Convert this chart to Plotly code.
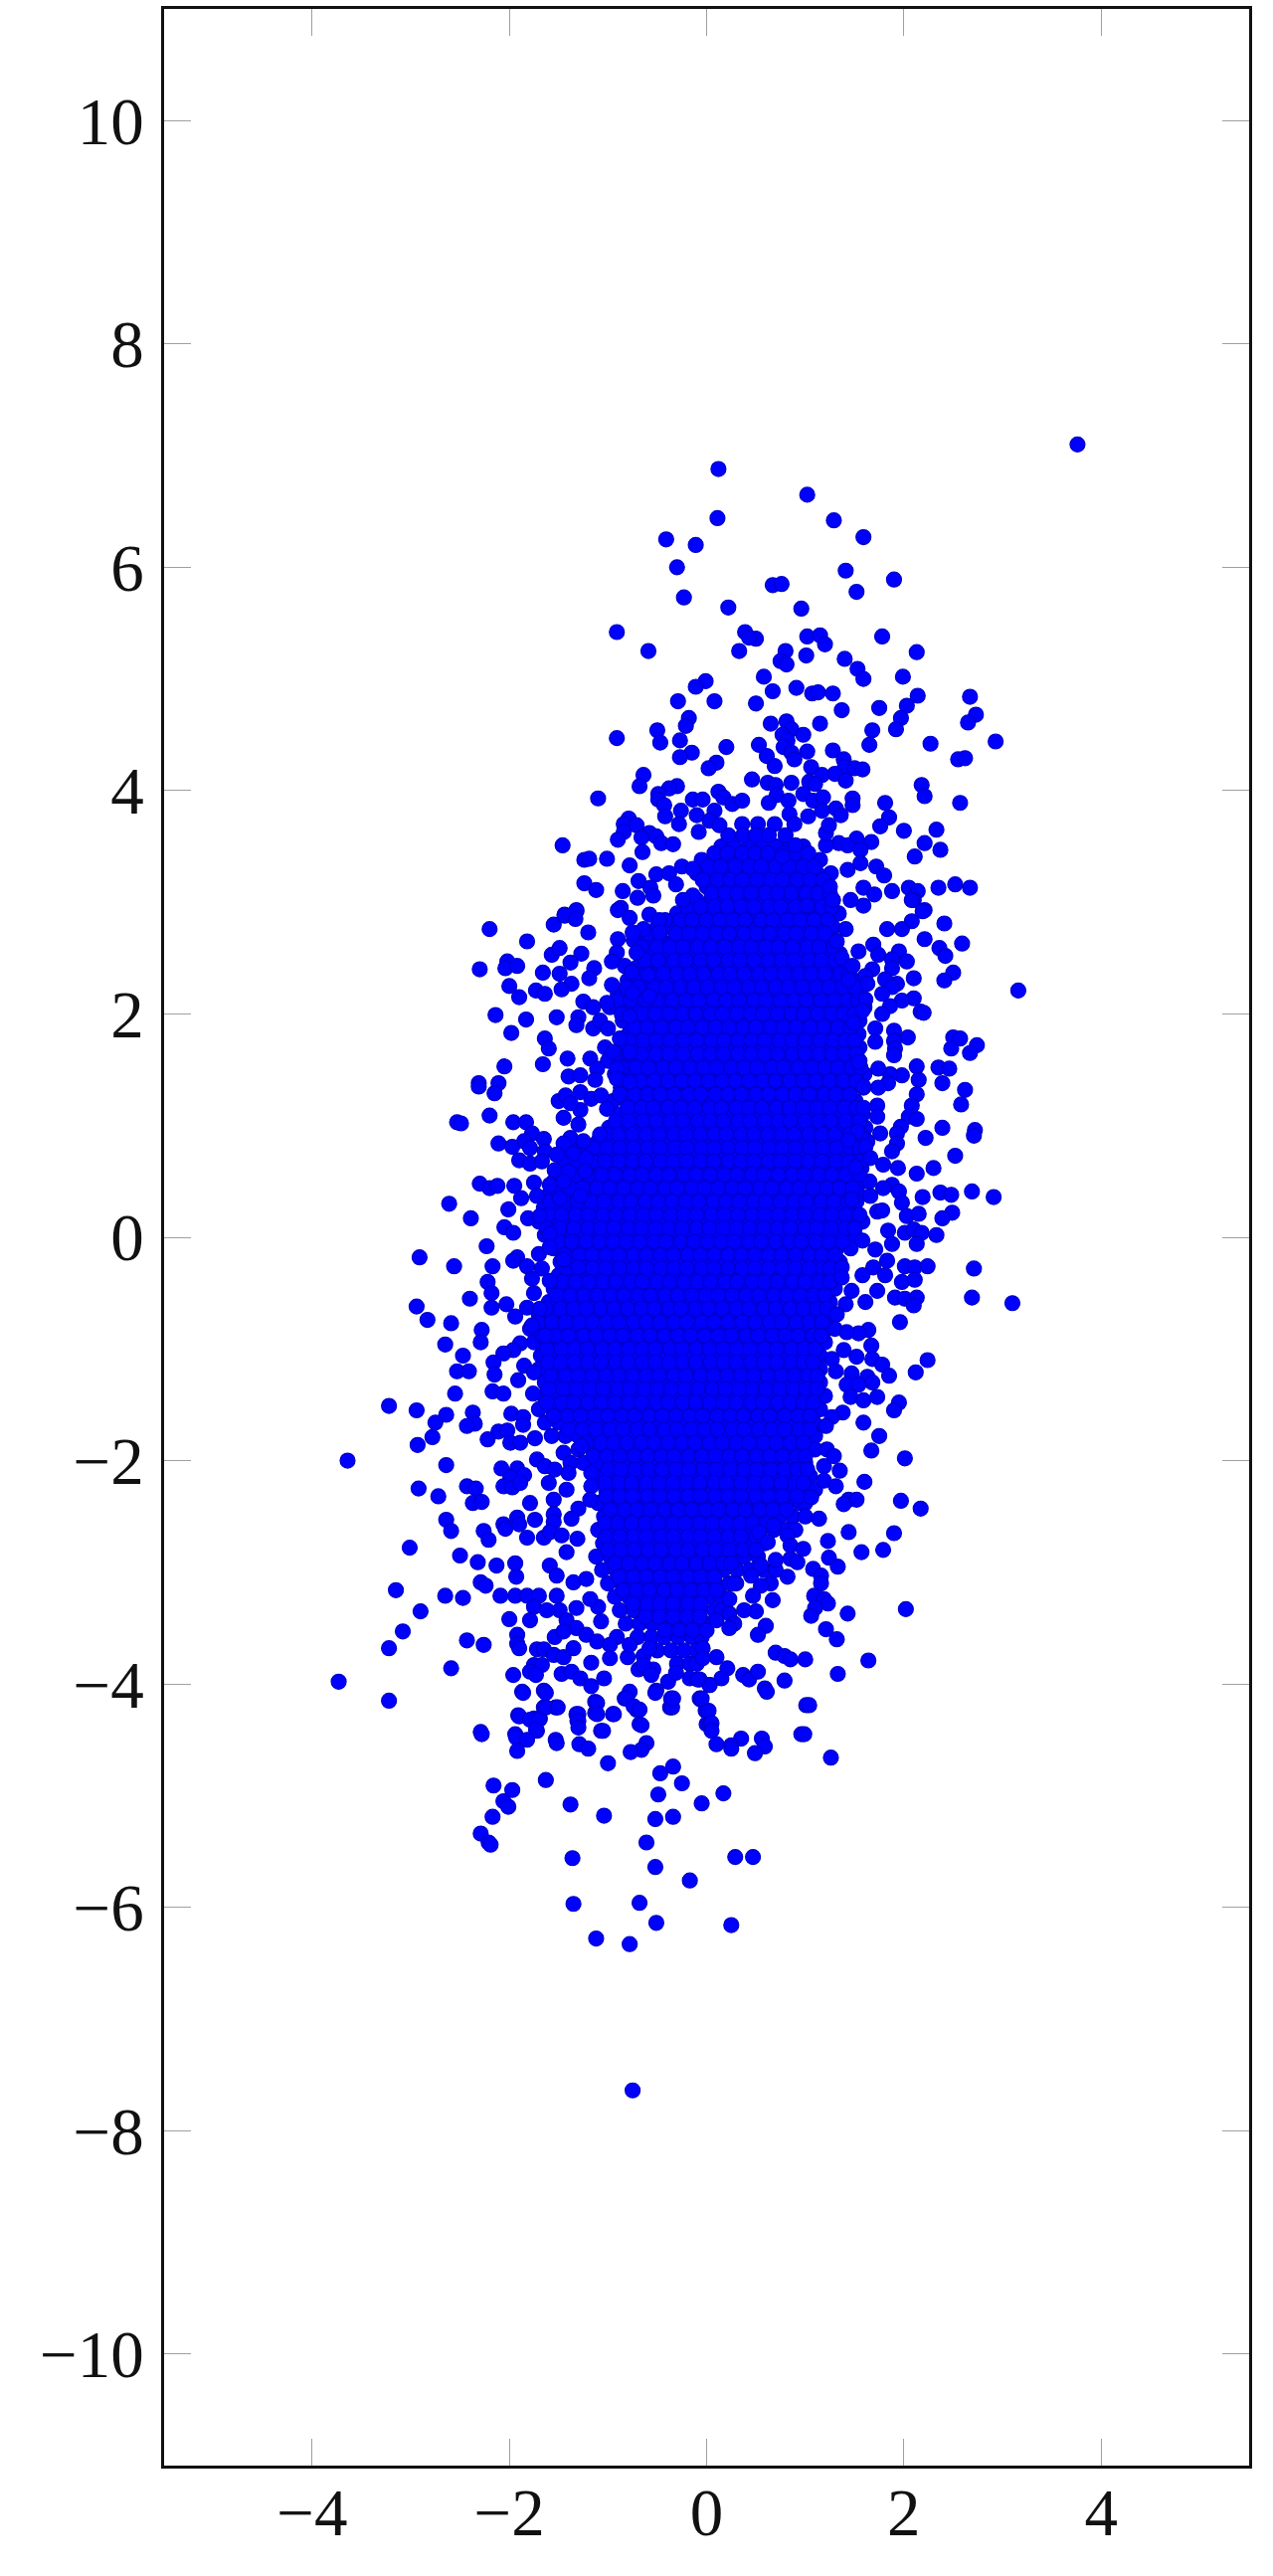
import plotly.graph_objects as go

x_ticks = [-4, -2, 0, 2, 4]
x_labels = ["\u22124", "\u22122", "0", "2", "4"]
y_ticks = [-10, -8, -6, -4, -2, 0, 2, 4, 6, 8, 10]
y_labels = ["\u221210", "\u22128", "\u22126", "\u22124", "\u22122", "0", "2", "4", "6", "8", "10"]

top_points = [(3.76,7.1),(.12,6.88),(1.02,6.65),(.11,6.44),(1.29,6.42),(1.59,6.27),(-.41,6.25),(-.11,6.2),(-.3,6.0),(1.41,5.97),(1.9,5.89),(1.52,5.78),(.67,5.84),(.76,5.85),(-.23,5.73),(.22,5.64),(.96,5.63),(-.91,5.42),(-.59,5.25),(.39,5.42),(.5,5.36),(.43,5.37),(.33,5.25),(1.02,5.38),(1.15,5.39),(1.2,5.31),(1.78,5.38),(2.13,5.24),(.8,5.25),(1.01,5.21),(.75,5.16),(.81,5.13),(1.4,5.18),(1.53,5.09),(1.59,5.0),(.58,5.02),(1.99,5.02),(.91,4.92),(.67,4.89),(-.01,4.98),(-.11,4.93),(-.29,4.8),(.08,4.8),(.5,4.78),(1.07,4.87),(1.13,4.88),(1.28,4.87),(1.37,4.72),(1.75,4.74),(2.14,4.85),(2.03,4.76),(1.97,4.65),(1.92,4.55),(2.67,4.84),(2.73,4.68),(2.65,4.61),(2.93,4.44),(-.18,4.65),(-.21,4.58),(-.5,4.54),(-.47,4.43),(-.91,4.47),(-.27,4.45),(-.15,4.34),(-.27,4.3),(.2,4.39),(.65,4.6),(.81,4.62),(1.15,4.6),(.86,4.55),(.98,4.5),(.77,4.5),(.82,4.45),(.53,4.41),(.78,4.39),(.86,4.34),(1.02,4.35),(.61,4.31),(.89,4.28),(.69,4.22),(1.68,4.54),(1.65,4.41),(2.27,4.42),(2.55,4.28),(2.62,4.29),(1.28,4.36),(1.39,4.28),(1.06,4.21),(1.4,4.21),(1.5,4.2),(1.58,4.19),(1.17,4.14),(1.3,4.15),(1.41,4.09),(1.04,4.08),(1.1,4.06),(.1,4.25),(.02,4.2),(-.64,4.14),(-.68,4.04),(-.3,4.04),(-.38,4.02),(-.49,3.97),(-.49,3.92),(-.43,3.87),(-.42,3.77),(-1.1,3.93),(.46,4.1),(.62,4.07),(.7,4.05),(.86,4.07),(.71,3.96),(.63,3.89),(.83,3.91),(.98,3.97),(1.08,3.91),(1.18,3.94),(-.14,3.92),(-.04,3.92),(.12,3.99),(.17,3.94),(.26,3.88),(.36,3.91),(-.26,3.82),(-.28,3.7),(-.1,3.78),(.08,3.82),(.03,3.73),(.13,3.69),(.84,3.79),(1.03,3.77),(.89,3.7),(1.17,3.82),(1.31,3.84),(1.36,3.78),(1.48,3.93),(1.48,3.87),(1.81,3.89),(1.85,3.76),(1.76,3.68),(2.18,4.05),(2.21,3.95),(2.57,3.89),(2.0,3.64),(2.33,3.65),(2.21,3.53),(2.37,3.47),(2.11,3.41),(-.79,3.75),(-.84,3.7),(-.71,3.69),(-.84,3.63),(-.58,3.62),(-.9,3.56),(-.66,3.58),(-.51,3.59),(-.46,3.53),(-.34,3.52),(-.65,3.45),(-1.46,3.51),(-1.24,3.38),(-1.19,3.39),(-1.01,3.39),(-.78,3.33),(-.08,3.63),(-1.24,3.17),(-1.12,3.11),(-.69,3.19),(-.85,3.1),(-.51,3.25),(-.38,3.26),(-.57,3.13),(-.7,3.04),(-.54,3.06),(-.31,3.16),(-.25,3.32),(-.14,3.3),(-.14,3.06),(-.24,3.02),(-1.44,2.89),(-1.32,2.92),(-.87,2.95),(2.35,3.13),(2.52,3.16),(2.67,3.13),(2.05,3.13),(2.14,3.1),(2.1,3.02),(2.21,2.93),(1.59,3.13),(1.88,3.1),(1.7,3.07),(1.72,3.32),(1.8,3.24),(1.59,2.97),(1.46,3.02),(1.25,3.14),(1.28,3.02),(1.02,2.97),(1.67,3.54),(1.52,3.57),(1.56,3.47),(1.34,3.53),(1.43,3.51),(1.56,3.35),(1.43,3.29),(1.21,3.51),(1.21,3.62),(1.24,3.69),(.9,3.51),(.77,3.41)]

left_upper_points = [(-2.2,2.76),(-1.82,2.65),(-1.55,2.8),(-1.44,2.88),(-1.32,2.93),(-1.33,2.85),(-1.2,2.73),(-.9,2.93),(-.78,2.86),(-.9,2.67),(-.58,2.89),(-.48,2.84),(-.64,2.76),(-.48,2.73),(-.75,2.73),(-1.57,2.53),(-1.49,2.59),(-1.27,2.54),(-1.38,2.46),(-.91,2.55),(-.96,2.47),(-.83,2.43),(-.71,2.55),(-2.3,2.4),(-2.02,2.47),(-2.04,2.41),(-1.92,2.43),(-1.66,2.37),(-1.49,2.36),(-1.37,2.27),(-1.47,2.22),(-1.14,2.41),(-1.19,2.32),(-.96,2.26),(-.76,2.38),(-.59,2.35),(-2.0,2.25),(-1.9,2.15),(-1.73,2.21),(-1.64,2.18),(-1.25,2.11),(-.75,2.19),(-.58,2.16),(-1.01,2.1),(-1.15,2.06),(-2.14,1.99),(-1.83,1.95),(-1.52,1.97),(-1.3,1.97),(-1.32,1.9),(-1.98,1.83),(-1.15,1.87),(-1.08,1.94),(-1.0,1.87),(-.86,2.0),(-.78,1.98),(-1.64,1.78),(-1.6,1.69),(-.88,1.78),(-1.03,1.7),(-1.41,1.6),(-1.66,1.55),(-1.18,1.6),(-.95,1.66),(-.78,1.66),(-2.05,1.53),(-1.11,1.51),(-.91,1.51),(-1.4,1.44),(-1.28,1.45),(-1.13,1.41),(-.91,1.42),(-.78,1.39),(-2.31,1.38),(-2.31,1.35),(-2.11,1.38),(-2.15,1.29),(-1.5,1.22),(-1.43,1.27),(-1.28,1.3),(-1.17,1.24),(-1.07,1.27),(-1.28,1.14),(-1.38,1.2),(-1.01,1.15),(-2.2,1.09),(-1.45,1.07),(-1.3,1.01),(-2.53,1.03),(-2.49,1.02),(-1.96,1.03),(-1.83,1.03),(-1.77,.93),(-1.65,.88),(-1.85,.86),(-2.11,.84),(-1.97,.81),(-1.79,.8),(-1.64,.77),(-1.9,.69),(-1.79,.66),(-1.67,.68),(-1.38,.89),(-1.45,.84),(-1.25,.86),(-1.08,.92),(-1.52,.74),(-1.35,.75),(-1.22,.71),(-1.54,.6),(-1.4,.59),(-1.23,.59),(-1.03,.68),(-2.3,.48),(-2.2,.44),(-2.12,.46),(-1.95,.46),(-1.88,.35),(-1.75,.49),(-1.72,.37),(-1.59,.47),(-1.45,.5),(-1.49,.35),(-1.28,.37),(-2.61,.3),(-2.39,.17),(-2.01,.25),(-1.81,.17),(-1.69,.19),(-2.05,.09),(-1.96,.04),(-2.23,-.08),(-2.91,-.18),(-2.56,-.26),(-2.17,-.26),(-1.92,-.18),(-1.96,-.21),(-1.7,-.15),(-1.82,-.26),(-1.59,.03),(-1.59,-.09),(-1.45,-.2),(-1.3,-.27),(-1.67,-.28),(-2.22,-.4),(-2.18,-.5),(-1.77,-.37),(-1.75,-.5),(-1.59,-.39),(-2.4,-.55),(-2.94,-.62),(-2.18,-.63),(-2.03,-.6),(-1.82,-.63),(-1.69,-.64)]

right_upper_points = [(2.08,3.02),(2.19,2.92),(2.08,2.83),(1.98,2.76),(1.83,2.76),(2.41,2.81),(2.21,2.67),(2.59,2.63),(2.36,2.59),(2.42,2.52),(1.41,2.76),(1.32,2.65),(1.54,2.56),(1.69,2.62),(1.95,2.56),(2.03,2.47),(1.74,2.53),(1.88,2.49),(1.88,2.41),(1.68,2.4),(1.37,2.5),(1.48,2.43),(1.61,2.34),(2.1,2.32),(2.5,2.37),(2.41,2.3),(3.16,2.21),(1.81,2.31),(1.93,2.27),(1.88,2.24),(1.63,2.27),(1.44,2.3),(2.1,2.14),(1.98,2.12),(2.17,2.02),(2.2,2.01),(1.78,2.18),(1.86,2.07),(1.61,2.13),(1.78,2.0),(1.58,2.03),(1.49,1.92),(1.71,1.87),(1.9,1.85),(2.04,1.79),(1.9,1.76),(1.71,1.75),(1.91,1.69),(1.9,1.63),(2.5,1.79),(2.57,1.78),(2.74,1.72),(2.67,1.65),(2.48,1.69),(2.13,1.53),(2.35,1.52),(2.46,1.51),(2.39,1.38),(2.62,1.32),(2.58,1.19),(2.15,1.41),(1.98,1.45),(1.86,1.46),(1.84,1.38),(1.74,1.34),(1.59,1.35),(1.74,1.51),(1.54,1.57),(2.13,1.28),(2.08,1.18),(1.59,1.16),(1.73,1.18),(1.73,1.08),(2.05,1.08),(2.13,1.06),(1.97,.99),(1.93,.93),(2.39,.98),(2.72,.96),(2.71,.91),(2.22,.89),(2.52,.73),(2.3,.62),(2.13,.57),(1.94,.62),(1.93,.84),(1.76,.93),(1.53,.95),(1.61,.81),(1.44,.87),(1.88,.77),(1.66,.71),(1.79,.65),(1.51,.63),(1.88,.47),(1.95,.41),(1.79,.44),(1.66,.37),(1.47,.34),(2.19,.36),(2.37,.4),(2.48,.38),(2.69,.41),(2.91,.36),(1.98,.31),(2.03,.19),(2.15,.21),(2.49,.22),(2.39,.17),(1.73,.23),(1.78,.24),(1.84,.06),(2.01,.04),(2.1,.07),(2.18,.04),(2.13,-.06),(2.33,.02),(1.88,-.06),(1.71,-.11),(1.58,-.03),(1.83,-.21),(2.01,-.26),(2.11,-.27),(2.24,-.26),(2.71,-.28),(1.69,-.27),(1.81,-.34),(1.98,-.4),(2.11,-.38),(1.58,-.34),(1.73,-.48),(1.37,-.27),(1.37,-.36),(2.69,-.54),(3.1,-.59),(1.91,-.54),(2.01,-.55),(2.13,-.54),(2.1,-.61),(1.61,-.58),(1.47,-.48),(1.41,-.6),(1.32,-.69)]

left_lower_points = [(-2.83,-.74),(-2.59,-.77),(-2.28,-.83),(-2.29,-.94),(-2.65,-.96),(-2.47,-1.06),(-1.94,-.71),(-1.77,-.79),(-1.64,-.88),(-1.89,-.95),(-1.96,-1.01),(-2.06,-1.04),(-2.16,-1.12),(-2.53,-1.2),(-2.41,-1.2),(-2.15,-1.23),(-1.85,-1.15),(-1.91,-1.28),(-1.75,-1.21),(-2.55,-1.4),(-2.17,-1.38),(-2.06,-1.4),(-1.76,-1.4),(-3.22,-1.51),(-2.94,-1.55),(-2.64,-1.59),(-2.75,-1.66),(-2.78,-1.79),(-2.93,-1.86),(-2.37,-1.57),(-2.35,-1.67),(-2.43,-1.69),(-1.98,-1.58),(-1.86,-1.61),(-1.86,-1.68),(-2.11,-1.74),(-2.02,-1.73),(-2.22,-1.81),(-1.99,-1.84),(-1.89,-1.84),(-1.74,-1.8),(-3.64,-2.0),(-2.64,-2.04),(-1.72,-1.99),(-1.64,-2.05),(-1.54,-2.08),(-1.45,-1.93),(-1.27,-1.87),(-1.38,-2.02),(-1.4,-2.11),(-2.08,-2.07),(-1.92,-2.07),(-1.85,-2.13),(-1.99,-2.15),(-2.06,-2.23),(-1.97,-2.24),(-1.89,-2.2),(-2.92,-2.25),(-2.72,-2.32),(-2.43,-2.23),(-2.34,-2.25),(-2.37,-2.38),(-2.28,-2.37),(-1.6,-2.2),(-1.42,-2.26),(-1.55,-2.35),(-1.79,-2.38),(-1.17,-2.11),(-1.17,-2.23),(-1.18,-2.35),(-1.3,-2.43),(-1.55,-2.48),(-1.37,-2.52),(-1.55,-2.55),(-2.64,-2.53),(-2.59,-2.63),(-2.26,-2.63),(-2.21,-2.71),(-2.06,-2.57),(-2.04,-2.61),(-1.92,-2.51),(-1.9,-2.57),(-1.74,-2.53),(-1.82,-2.69),(-1.65,-2.69),(-1.59,-2.64),(-1.47,-2.67),(-1.31,-2.7),(-1.42,-2.82),(-3.01,-2.78),(-2.5,-2.85),(-2.32,-2.91),(-2.13,-2.94),(-1.94,-2.92),(-1.93,-3.04),(-1.59,-2.94),(-1.52,-3.03),(-1.35,-3.09),(-1.22,-3.06),(-2.29,-3.09),(-2.24,-3.12),(-3.15,-3.16),(-2.65,-3.21),(-2.47,-3.23),(-2.09,-3.21),(-1.94,-3.21),(-1.82,-3.21),(-1.7,-3.21),(-1.52,-3.21),(-2.9,-3.35),(-1.75,-3.31),(-1.49,-3.34),(-1.62,-3.34),(-1.32,-3.32),(-1.1,-3.31),(-1.18,-3.24),(-2.0,-3.42),(-1.79,-3.43),(-1.07,-3.44),(-1.42,-3.43),(-1.32,-3.5),(-3.08,-3.53),(-1.92,-3.56),(-1.54,-3.58),(-1.45,-3.53),(-1.22,-3.56),(-1.11,-3.62),(-.91,-3.58),(-.98,-3.65),(-2.43,-3.61),(-2.26,-3.65),(-3.22,-3.68),(-1.92,-3.64),(-1.9,-3.68),(-1.72,-3.69),(-1.65,-3.69),(-1.55,-3.74),(-1.45,-3.76),(-1.35,-3.68),(-.98,-3.77),(-.8,-3.76),(-.64,-3.75),(-.58,-3.68),(-.78,-3.65),(-1.17,-3.81),(-2.59,-3.86),(-1.75,-3.83),(-1.67,-3.83),(-1.79,-3.89),(-1.73,-3.92),(-1.96,-3.92),(-1.47,-3.91),(-1.37,-3.89),(-1.28,-3.95),(-1.04,-3.95),(-1.17,-4.02),(-.69,-3.87),(-.54,-3.87),(-.64,-3.83),(-.56,-3.92),(-.39,-3.98),(-.51,-4.06),(-.36,-4.13),(-.37,-4.21),(-3.73,-3.98),(-3.22,-4.15),(-1.87,-4.07),(-1.65,-4.06),(-.78,-4.07),(-.83,-4.13),(-.71,-4.23),(-1.13,-4.16),(-1.13,-4.26),(-.95,-4.27),(-1.65,-4.21),(-1.53,-4.21),(-1.91,-4.28),(-1.75,-4.31),(-1.69,-4.31),(-1.32,-4.27),(-1.31,-4.33),(-.68,-4.36),(-1.07,-4.42),(-.07,-4.13),(-.01,-4.24),(0,-4.36),(-.31,-3.9),(-.17,-3.95),(-.07,-3.96),(.03,-4.01),(-2.29,-4.43),(-1.72,-4.42),(-1.94,-4.45)]

right_lower_points = [(1.96,-.76),(2.24,-1.1),(2.12,-1.21),(1.64,-.83),(1.54,-.86),(1.42,-.85),(1.67,-.97),(1.39,-1.01),(1.52,-1.07),(1.68,-1.09),(1.78,-1.14),(1.85,-1.24),(1.27,-1.09),(1.31,-1.2),(1.47,-1.22),(1.63,-1.25),(1.68,-1.3),(1.42,-1.32),(1.54,-1.32),(1.46,-1.43),(1.59,-1.46),(1.73,-1.43),(1.95,-1.48),(1.9,-1.55),(1.38,-1.57),(1.27,-1.61),(1.21,-1.69),(1.59,-1.66),(1.75,-1.78),(1.67,-1.91),(2.01,-1.98),(1.22,-1.9),(1.29,-1.96),(1.35,-2.09),(1.19,-2.05),(1.19,-2.18),(1.31,-2.23),(1.6,-2.19),(1.44,-2.35),(1.52,-2.35),(1.39,-2.39),(1.06,-2.33),(1.97,-2.36),(2.17,-2.43),(1.14,-2.52),(1.44,-2.64),(1.9,-2.65),(1.23,-2.72),(1.57,-2.82),(1.79,-2.8),(1.24,-2.87),(1.33,-2.95),(.68,-2.58),(.82,-2.67),(.85,-2.76),(.98,-2.79),(.85,-2.88),(.92,-2.91),(.7,-2.89),(.53,-2.64),(.62,-2.73),(.55,-2.94),(.82,-3.04),(1.08,-2.97),(1.16,-3.03),(1.16,-3.1),(1.09,-3.21),(1.19,-3.24),(1.23,-3.28),(1.1,-3.32),(1.06,-3.39),(2.02,-3.33),(1.43,-3.37),(.65,-3.1),(.55,-3.12),(.28,-3.1),(.45,-3.03),(.67,-3.25),(.47,-3.21),(.5,-3.35),(.38,-3.34),(.23,-3.24),(.23,-3.37),(.1,-3.43),(.28,-3.46),(.23,-3.5),(0,-3.52),(.6,-3.48),(.52,-3.56),(1.21,-3.51),(1.32,-3.6),(.7,-3.72),(.79,-3.75),(.85,-3.78),(1.0,-3.78),(1.64,-3.79),(.1,-3.76),(-.04,-3.68),(-.04,-3.77),(.21,-3.86),(.15,-3.95),(.03,-4.01),(-.09,-3.96),(.37,-3.92),(.43,-3.96),(.52,-3.89),(.79,-3.97),(.59,-4.04),(1.33,-3.91),(1.01,-4.19),(-.06,-4.14),(0,-4.24),(.03,-4.36),(.96,-4.45)]

bottom_points = [(-2.28,-4.45),(-1.9,-4.29),(-1.79,-4.32),(-1.7,-4.32),(-1.63,-4.21),(-1.51,-4.21),(-1.86,-4.08),(-1.63,-4.08),(-1.73,-4.41),(-1.93,-4.48),(-1.82,-4.5),(-1.92,-4.6),(-1.53,-4.5),(-1.52,-4.53),(-1.3,-4.27),(-1.3,-4.33),(-1.3,-4.39),(-1.11,-4.17),(-1.11,-4.27),(-.94,-4.27),(-1.05,-4.42),(-1.29,-4.54),(-1.2,-4.58),(-1.0,-4.71),(-.81,-4.13),(-.74,-4.2),(-.68,-4.23),(-.66,-4.37),(-.35,-4.21),(-.34,-4.13),(-.52,-4.08),(-.05,-4.13),(.02,-4.24),(.05,-4.35),(.05,-4.42),(.1,-4.54),(-.61,-4.53),(-.66,-4.59),(-.77,-4.61),(.35,-4.49),(.25,-4.55),(.25,-4.58),(.56,-4.49),(.59,-4.56),(.49,-4.62),(1.04,-4.19),(.99,-4.45),(1.26,-4.66),(.61,-4.07),(-.34,-4.74),(-.47,-4.8),(-.25,-4.89),(-1.63,-4.86),(-2.16,-4.91),(-1.97,-4.95),(-2.06,-5.05),(-2.01,-5.1),(-2.17,-5.19),(-2.29,-5.34),(-2.21,-5.42),(-2.19,-5.44),(-1.38,-5.08),(-1.04,-5.18),(-.49,-4.99),(-.52,-5.21),(-.34,-5.19),(-.05,-5.07),(.17,-4.98),(-.61,-5.42),(-1.36,-5.56),(-.52,-5.64),(.29,-5.55),(.47,-5.55),(-.17,-5.76),(-1.35,-5.97),(-.68,-5.96),(-.51,-6.14),(.25,-6.16),(-1.12,-6.28),(-.78,-6.33),(-.75,-7.64)]

core_y = [3.5,3.38,3.26,3.14,3.02,2.9,2.78,2.66,2.54,2.42,2.3,2.18,2.06,1.94,1.82,1.7,1.58,1.46,1.34,1.22,1.1,.98,.86,.74,.62,.5,.38,.26,.14,.02,-.1,-.22,-.34,-.46,-.58,-.7,-.82,-.94,-1.06,-1.18,-1.3,-1.42,-1.54,-1.66,-1.78,-1.9,-2.02,-2.14,-2.26,-2.38,-2.5,-2.62,-2.74,-2.86,-2.98,-3.1,-3.22,-3.34,-3.46,-3.58,-3.7,-3.82]

core_x_rows = [
[.15,.28,.43,.56,.71,.84,.98],
[-.05,.08,.22,.35,.49,.64,.77,.91,1.04,1.15],
[-.1,.03,.17,.3,.44,.57,.71,.85,.98,1.12,1.26],
[0,.12,.25,.4,.53,.67,.8,.94,1.07,1.21],
[-.1,.05,.18,.32,.46,.59,.73,.87,1.0,1.14,1.28],
[-.3,-.17,-.03,.11,.24,.38,.52,.65,.79,.93,1.06,1.2,1.34],
[-.5,-.36,-.23,-.09,.05,.18,.32,.46,.59,.73,.87,1.0,1.14,1.28],
[-.74,-.6,-.46,-.32,-.19,-.05,.08,.22,.36,.49,.63,.77,.9,1.04,1.18,1.3],
[-.67,-.53,-.39,-.26,-.12,.02,.15,.29,.43,.56,.7,.84,.97,1.11,1.25,1.35],
[-.7,-.57,-.43,-.3,-.16,-.02,.11,.25,.39,.52,.66,.8,.93,1.07,1.21,1.34],
[-.8,-.66,-.52,-.39,-.25,-.11,.02,.16,.3,.43,.57,.71,.84,.98,1.12,1.25,1.39,1.5],
[-.9,-.76,-.62,-.49,-.35,-.21,-.08,.06,.2,.33,.47,.61,.74,.88,1.02,1.15,1.29,1.43,1.55],
[-.98,-.84,-.71,-.57,-.43,-.3,-.16,-.02,.11,.25,.39,.52,.66,.8,.93,1.07,1.21,1.34,1.48,1.6],
[-.85,-.72,-.58,-.44,-.31,-.17,-.03,.1,.24,.38,.51,.65,.79,.92,1.06,1.2,1.33,1.47,1.55],
[-.79,-.65,-.51,-.38,-.24,-.1,.03,.17,.31,.44,.58,.72,.85,.99,1.13,1.26,1.4,1.54],
[-.85,-.71,-.58,-.44,-.3,-.17,-.03,.11,.24,.38,.52,.65,.79,.93,1.06,1.2,1.34,1.47,1.55],
[-1.0,-.86,-.73,-.59,-.45,-.32,-.18,-.04,.09,.23,.37,.5,.64,.78,.91,1.05,1.19,1.32,1.46,1.55],
[-.93,-.79,-.66,-.52,-.38,-.25,-.11,.03,.16,.3,.44,.57,.71,.85,.98,1.12,1.26,1.39,1.53,1.6],
[-.87,-.73,-.6,-.46,-.32,-.19,-.05,.09,.22,.36,.5,.63,.77,.91,1.04,1.18,1.32,1.45,1.59],
[-.95,-.81,-.68,-.54,-.4,-.27,-.13,.01,.14,.28,.42,.55,.69,.83,.96,1.1,1.24,1.37,1.51],
[-.88,-.74,-.61,-.47,-.33,-.2,-.06,.08,.21,.35,.49,.62,.76,.9,1.03,1.17,1.31,1.44,1.58],
[-.99,-.85,-.72,-.58,-.44,-.31,-.17,-.03,.1,.24,.38,.51,.65,.79,.92,1.06,1.2,1.33,1.47,1.61],
[-1.1,-.96,-.83,-.69,-.55,-.42,-.28,-.14,-.01,.13,.27,.4,.54,.68,.81,.95,1.09,1.22,1.36,1.5,1.63],
[-1.5,-1.37,-1.23,-1.09,-.96,-.82,-.68,-.55,-.41,-.27,-.14,0,.14,.27,.41,.55,.68,.82,.96,1.09,1.23,1.37,1.5,1.6],
[-1.43,-1.3,-1.16,-1.02,-.89,-.75,-.61,-.48,-.34,-.2,-.07,.07,.21,.34,.48,.62,.75,.89,1.03,1.16,1.3,1.44,1.57],
[-1.55,-1.41,-1.28,-1.14,-1.0,-.87,-.73,-.59,-.46,-.32,-.18,-.05,.09,.23,.36,.5,.64,.77,.91,1.05,1.18,1.32,1.46,1.59,1.65],
[-1.6,-1.47,-1.33,-1.19,-1.06,-.92,-.78,-.65,-.51,-.37,-.24,-.1,.04,.17,.31,.45,.58,.72,.86,.99,1.13,1.27,1.4,1.54],
[-1.65,-1.52,-1.38,-1.24,-1.11,-.97,-.83,-.7,-.56,-.42,-.29,-.15,-.01,.12,.26,.4,.53,.67,.81,.94,1.08,1.22,1.35,1.49],
[-1.7,-1.56,-1.43,-1.29,-1.15,-1.02,-.88,-.74,-.61,-.47,-.33,-.2,-.06,.08,.21,.35,.49,.62,.76,.9,1.03,1.17,1.31,1.44,1.58],
[-1.64,-1.5,-1.37,-1.23,-1.09,-.96,-.82,-.68,-.55,-.41,-.27,-.14,0,.14,.27,.41,.55,.68,.82,.96,1.09,1.23,1.37,1.5],
[-1.55,-1.41,-1.28,-1.14,-1.0,-.87,-.73,-.59,-.46,-.32,-.18,-.05,.09,.23,.36,.5,.64,.77,.91,1.05,1.18,1.32,1.46],
[-1.48,-1.34,-1.21,-1.07,-.93,-.8,-.66,-.52,-.39,-.25,-.11,.02,.16,.3,.43,.57,.71,.84,.98,1.12,1.25,1.35],
[-1.5,-1.37,-1.23,-1.09,-.96,-.82,-.68,-.55,-.41,-.27,-.14,0,.14,.27,.41,.55,.68,.82,.96,1.09,1.23,1.3],
[-1.55,-1.41,-1.28,-1.14,-1.0,-.87,-.73,-.59,-.46,-.32,-.18,-.05,.09,.23,.36,.5,.64,.77,.91,1.05,1.18,1.3],
[-1.6,-1.47,-1.33,-1.19,-1.06,-.92,-.78,-.65,-.51,-.37,-.24,-.1,.04,.17,.31,.45,.58,.72,.86,.99,1.13,1.25],
[-1.7,-1.56,-1.43,-1.29,-1.15,-1.02,-.88,-.74,-.61,-.47,-.33,-.2,-.06,.08,.21,.35,.49,.62,.76,.9,1.03,1.17,1.25],
[-1.79,-1.65,-1.52,-1.38,-1.24,-1.11,-.97,-.83,-.7,-.56,-.42,-.29,-.15,-.01,.12,.26,.4,.53,.67,.81,.94,1.08,1.22,1.3],
[-1.75,-1.61,-1.48,-1.34,-1.2,-1.07,-.93,-.79,-.66,-.52,-.38,-.25,-.11,.03,.16,.3,.44,.57,.71,.85,.98,1.12,1.2],
[-1.68,-1.54,-1.41,-1.27,-1.13,-1.0,-.86,-.72,-.59,-.45,-.31,-.18,-.04,.1,.23,.37,.51,.64,.78,.92,1.05,1.15],
[-1.7,-1.56,-1.43,-1.29,-1.15,-1.02,-.88,-.74,-.61,-.47,-.33,-.2,-.06,.08,.21,.35,.49,.62,.76,.9,1.03,1.15],
[-1.64,-1.5,-1.37,-1.23,-1.09,-.96,-.82,-.68,-.55,-.41,-.27,-.14,0,.14,.27,.41,.55,.68,.82,.96,1.09,1.15],
[-1.65,-1.51,-1.38,-1.24,-1.1,-.97,-.83,-.69,-.56,-.42,-.28,-.15,-.01,.13,.26,.4,.54,.67,.81,.95,1.08,1.2],
[-1.7,-1.56,-1.43,-1.29,-1.15,-1.02,-.88,-.74,-.61,-.47,-.33,-.2,-.06,.08,.21,.35,.49,.62,.76,.9,1.03,1.15],
[-1.64,-1.5,-1.37,-1.23,-1.09,-.96,-.82,-.68,-.55,-.41,-.27,-.14,0,.14,.27,.41,.55,.68,.82,.96,1.09],
[-1.57,-1.43,-1.3,-1.16,-1.02,-.89,-.75,-.61,-.48,-.34,-.2,-.07,.07,.21,.34,.48,.62,.75,.89,1.03,1.1],
[-1.3,-1.16,-1.03,-.89,-.75,-.62,-.48,-.34,-.21,-.07,.07,.2,.34,.48,.61,.75,.89,1.02,1.1],
[-1.25,-1.11,-.98,-.84,-.7,-.57,-.43,-.29,-.16,-.02,.12,.25,.39,.53,.66,.8,.94,1.0],
[-1.08,-.94,-.81,-.67,-.53,-.4,-.26,-.12,.01,.15,.29,.42,.56,.7,.83,.97,1.05],
[-1.02,-.88,-.75,-.61,-.47,-.34,-.2,-.06,.07,.21,.35,.48,.62,.76,.89,1.03,1.1],
[-1.1,-.96,-.83,-.69,-.55,-.42,-.28,-.14,-.01,.13,.27,.4,.54,.68,.81,.95,1.0],
[-1.04,-.9,-.77,-.63,-.49,-.36,-.22,-.08,.05,.19,.33,.46,.6,.74,.87,1.0],
[-1.1,-.96,-.83,-.69,-.55,-.42,-.28,-.14,-.01,.13,.27,.4,.54,.68,.81,.9],
[-1.05,-.92,-.78,-.64,-.51,-.37,-.23,-.1,.04,.18,.31,.45,.59],
[-1.12,-.98,-.85,-.71,-.57,-.44,-.3,-.16,-.03,.11,.25,.38,.52],
[-1.06,-.92,-.79,-.65,-.51,-.38,-.24,-.1,.03,.17,.31,.44,.58,.7],
[-1.0,-.86,-.73,-.59,-.45,-.32,-.18,-.04,.09,.23,.3],
[-.93,-.79,-.66,-.52,-.38,-.25,-.11,.03,.15],
[-.88,-.74,-.61,-.47,-.33,-.2,-.06,.08,.15],
[-.82,-.68,-.55,-.41,-.27,-.14,0],
[-.7,-.56,-.43,-.29,-.15,-.05],
[-.5,-.36,-.23,-.1],
[-.3,-.17,-.1],
]

fill_y = [3.7,3.6,3.44,3.32,3.2,3.08,2.96,2.84,2.72,2.6,2.48,2.36,2.24,2.12,2.0,1.88,1.76,1.64,1.52,1.4,1.28,1.16,1.04,.92,.8,.68,.56,.44,.32,.2,.08,-.04,-.16,-.28,-.4,-.52,-.64,-.76,-.88,-1.0,-1.12,-1.24,-1.36,-1.48,-1.6,-1.72,-1.84,-1.96,-2.08,-2.2,-2.32,-2.44,-2.56,-2.68,-2.8,-2.92,-3.04,-3.16,-3.28,-3.4,-3.52,-3.64]

fill_x_rows = [
[.36,.52,.69],
[.22,.37,.5,.63,.8],
[.08,.21,.36,.49,.62,.78,.9,1.03],
[.02,.14,.29,.43,.55,.7,.83,.98,1.09],
[-.04,.11,.24,.36,.51,.65,.77,.92,1.05,1.18],
[.05,.19,.31,.45,.6,.72,.86,1.01,1.13,1.25],
[-.2,-.06,.08,.21,.35,.48,.63,.75,.9,1.03,1.17,1.27],
[-.42,-.27,-.15,.0,.13,.27,.39,.55,.67,.82,.95,1.09,1.23],
[-.6,-.47,-.31,-.18,-.04,.1,.23,.38,.51,.64,.79,.91,1.06,1.2],
[-.66,-.5,-.37,-.24,-.09,.04,.18,.33,.45,.6,.73,.87,1.02,1.14,1.29],
[-.62,-.49,-.33,-.21,-.06,.07,.22,.34,.48,.63,.76,.89,1.04,1.16,1.3],
[-.72,-.58,-.44,-.3,-.17,-.03,.12,.24,.38,.53,.65,.79,.94,1.06,1.2,1.35,1.44],
[-.81,-.69,-.53,-.41,-.26,-.13,.01,.15,.28,.43,.56,.7,.83,.97,1.11,1.24,1.38,1.5],
[-.9,-.77,-.62,-.5,-.35,-.21,-.08,.07,.2,.33,.48,.6,.75,.89,1.01,1.16,1.3,1.43,1.53],
[-.8,-.65,-.52,-.38,-.24,-.11,.04,.16,.31,.45,.57,.72,.86,.98,1.13,1.27,1.39,1.5],
[-.73,-.6,-.46,-.31,-.19,-.04,.09,.23,.37,.5,.65,.78,.91,1.05,1.19,1.33,1.46],
[-.79,-.64,-.51,-.37,-.23,-.1,.05,.18,.32,.45,.59,.74,.87,1.0,1.15,1.28,1.41,1.5],
[-.92,-.78,-.66,-.51,-.38,-.24,-.09,.04,.17,.32,.45,.59,.72,.87,1.0,1.14,1.27,1.4,1.52],
[-.86,-.71,-.59,-.44,-.31,-.17,-.03,.1,.25,.38,.51,.66,.78,.93,1.07,1.2,1.33,1.47,1.56],
[-.8,-.67,-.53,-.39,-.25,-.12,.02,.16,.29,.43,.57,.7,.84,.98,1.11,1.25,1.39,1.52],
[-.88,-.73,-.6,-.47,-.33,-.18,-.06,.09,.22,.35,.5,.63,.77,.9,1.04,1.19,1.31,1.45],
[-.8,-.66,-.54,-.39,-.26,-.12,.03,.15,.3,.43,.56,.71,.84,.98,1.12,1.25,1.4,1.52],
[-.92,-.79,-.64,-.51,-.37,-.24,-.09,.04,.17,.32,.44,.59,.73,.85,1.0,1.14,1.26,1.41,1.55],
[-1.02,-.89,-.75,-.61,-.48,-.33,-.21,-.06,.08,.2,.35,.48,.62,.76,.89,1.04,1.17,1.3,1.45,1.57],
[-1.42,-1.3,-1.15,-1.01,-.88,-.74,-.6,-.47,-.32,-.2,-.05,.08,.22,.36,.49,.64,.77,.9,1.05,1.18,1.32,1.46,1.55],
[-1.44,-1.31,-1.16,-1.03,-.89,-.75,-.62,-.47,-.34,-.2,-.06,.07,.22,.35,.48,.63,.75,.9,1.03,1.17,1.31,1.44,1.56],
[-1.48,-1.33,-1.2,-1.06,-.93,-.78,-.65,-.51,-.38,-.23,-.1,.04,.18,.31,.46,.58,.73,.87,.99,1.14,1.27,1.41,1.55],
[-1.53,-1.39,-1.26,-1.11,-.98,-.84,-.7,-.57,-.42,-.3,-.15,-.02,.12,.26,.39,.54,.66,.81,.94,1.08,1.22,1.35,1.48],
[-1.59,-1.44,-1.31,-1.17,-1.04,-.89,-.77,-.62,-.49,-.35,-.21,-.08,.07,.2,.33,.48,.6,.75,.89,1.01,1.16,1.29,1.43,1.52],
[-1.6,-1.47,-1.33,-1.2,-1.05,-.92,-.78,-.64,-.51,-.36,-.23,-.1,.05,.18,.32,.46,.59,.73,.87,1.0,1.15,1.27,1.41,1.55],
[-1.62,-1.48,-1.35,-1.2,-1.07,-.94,-.79,-.66,-.52,-.38,-.25,-.1,.03,.17,.31,.44,.58,.72,.85,1.0,1.12,1.26,1.41,1.5],
[-1.5,-1.37,-1.22,-1.09,-.95,-.81,-.68,-.53,-.41,-.26,-.13,.01,.15,.28,.43,.55,.7,.84,.96,1.11,1.24,1.38],
[-1.44,-1.29,-1.16,-1.02,-.89,-.74,-.61,-.47,-.34,-.19,-.06,.08,.22,.35,.49,.63,.76,.9,1.04,1.17,1.3],
[-1.42,-1.3,-1.15,-1.02,-.88,-.74,-.61,-.46,-.33,-.2,-.05,.08,.22,.36,.49,.63,.77,.9,1.04,1.18,1.25],
[-1.46,-1.33,-1.19,-1.05,-.92,-.77,-.65,-.5,-.37,-.23,-.09,.04,.19,.31,.46,.59,.72,.87,1.0,1.14,1.25],
[-1.52,-1.38,-1.25,-1.11,-.97,-.84,-.69,-.57,-.42,-.29,-.15,-.01,.12,.26,.4,.53,.68,.81,.95,1.08,1.2],
[-1.63,-1.48,-1.35,-1.22,-1.07,-.94,-.8,-.66,-.53,-.38,-.26,-.11,.02,.16,.3,.43,.58,.7,.85,.98,1.12,1.22],
[-1.7,-1.57,-1.43,-1.29,-1.16,-1.01,-.89,-.74,-.61,-.47,-.33,-.2,-.05,.08,.22,.36,.49,.64,.76,.91,1.04,1.17],
[-1.67,-1.53,-1.4,-1.25,-1.12,-.98,-.85,-.7,-.57,-.43,-.29,-.16,-.02,.12,.25,.4,.52,.67,.8,.93,1.08,1.16],
[-1.62,-1.47,-1.34,-1.21,-1.06,-.93,-.79,-.65,-.52,-.37,-.25,-.1,.03,.17,.31,.44,.59,.71,.86,.99,1.1],
[-1.61,-1.48,-1.34,-1.2,-1.07,-.92,-.8,-.65,-.52,-.38,-.24,-.11,.04,.17,.3,.45,.58,.71,.86,.98,1.08],
[-1.58,-1.43,-1.3,-1.16,-1.02,-.89,-.75,-.61,-.48,-.33,-.21,-.06,.07,.21,.35,.48,.62,.76,.89,1.03,1.12],
[-1.6,-1.45,-1.32,-1.18,-1.05,-.9,-.78,-.63,-.5,-.36,-.22,-.09,.06,.19,.33,.47,.6,.74,.88,1.01,1.12],
[-1.62,-1.47,-1.35,-1.2,-1.07,-.93,-.79,-.66,-.51,-.39,-.24,-.11,.03,.17,.3,.45,.57,.72,.85,.98,1.08],
[-1.55,-1.41,-1.28,-1.13,-1.0,-.86,-.73,-.58,-.45,-.31,-.17,-.04,.11,.24,.37,.52,.64,.79,.93,1.05],
[-1.4,-1.26,-1.12,-.98,-.85,-.7,-.58,-.43,-.3,-.16,-.02,.11,.26,.38,.53,.66,.79,.94,1.05],
[-1.22,-1.07,-.94,-.81,-.66,-.53,-.39,-.25,-.12,.03,.16,.3,.43,.58,.71,.85,.98],
[-1.15,-1.01,-.88,-.73,-.6,-.46,-.33,-.18,-.05,.09,.23,.36,.51,.64,.77,.92,1.0],
[-1.0,-.87,-.72,-.59,-.45,-.31,-.18,-.03,.1,.24,.38,.51,.65,.79,.92,1.02],
[-1.03,-.89,-.76,-.61,-.48,-.34,-.2,-.07,.08,.2,.35,.49,.61,.76,.9,.98],
[-1.02,-.88,-.75,-.6,-.47,-.33,-.19,-.06,.09,.22,.35,.5,.63,.77,.92],
[-.98,-.83,-.7,-.57,-.42,-.29,-.15,-.01,.12,.27,.39,.54,.67,.81],
[-1.03,-.9,-.76,-.62,-.49,-.34,-.22,-.07,.06,.2,.34,.47,.6],
[-1.02,-.88,-.74,-.61,-.46,-.34,-.19,-.06,.08,.22,.35,.5],
[-1.0,-.87,-.73,-.59,-.46,-.31,-.19,-.04,.09,.23,.37,.5],
[-.93,-.79,-.65,-.52,-.37,-.25,-.1,.03,.17,.25],
[-.89,-.74,-.61,-.47,-.34,-.19,-.06,.08],
[-.85,-.71,-.58,-.43,-.3,-.16,-.03,.1],
[-.75,-.6,-.47,-.34,-.19,-.06],
[-.62,-.48,-.34,-.2,-.07],
[-.42,-.28,-.14],
]

outer = (top_points + left_upper_points + right_upper_points +
         left_lower_points + right_lower_points + bottom_points)
xs = ([v for row in core_x_rows for v in row] +
      [v for row in fill_x_rows for v in row] + [p[0] for p in outer])
ys = ([y for y, row in zip(core_y, core_x_rows) for _ in row] +
      [y for y, row in zip(fill_y, fill_x_rows) for _ in row] + [p[1] for p in outer])

fig = go.Figure(go.Scatter(
    x=xs, y=ys, mode="markers", showlegend=False, hoverinfo="skip",
    marker=dict(size=15, color="#0000ff", line=dict(width=1.2, color="#0000c8")),
))

axis_style = dict(
    showgrid=False, zeroline=False, showline=True, mirror="ticks",
    linecolor="#111111", linewidth=2.5,
    ticks="inside", ticklen=27, tickwidth=1.4, tickcolor="#a0a0a0",
    tickfont=dict(family="Liberation Serif", size=67, color="#111111"),
)
fig.update_xaxes(range=[-5.5, 5.5], tickmode="array", tickvals=x_ticks, ticktext=x_labels,
                 ticklabelstandoff=-13, **axis_style)
fig.update_yaxes(range=[-11, 11], tickmode="array", tickvals=y_ticks, ticktext=y_labels,
                 ticklabelstandoff=4, **axis_style)
fig.update_layout(
    width=1280, height=2590, autosize=False,
    margin=dict(l=165, r=24, t=6, b=111),
    paper_bgcolor="white", plot_bgcolor="white",
)
fig.write_html("out.html", config={"displayModeBar": False},
               post_script="document.body.style.margin='0';")
